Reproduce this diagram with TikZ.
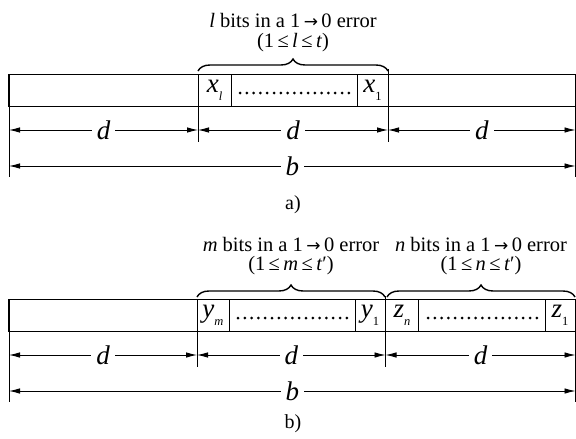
\documentclass[tikz,border=0pt]{standalone}
\usepackage{fontspec}
\setmainfont{Liberation Serif}
\newfontfamily\arrowfont{DejaVu Sans}
\usetikzlibrary{arrows.meta,decorations.pathreplacing}
\newcommand{\vsub}[2]{\textit{#1}\raisebox{-0.3em}{\fontsize{12.5}{12.5}\selectfont #2}}
\newcommand{\errarrow}{\,{\arrowfont\fontsize{17}{17}\selectfont →}\,}
\begin{document}
\begin{tikzpicture}[x=1pt,y=1pt,
  barline/.style={line width=1.8pt},
  cellline/.style={line width=0.9pt},
  tickline/.style={line width=0.8pt},
  dimarrow/.style={line width=0.9pt,{Latex[length=11pt,width=5.5pt]}-{Latex[length=11pt,width=5.5pt]}},
  dimlabel/.style={fill=white,inner sep=5pt,font=\fontsize{27}{27}\selectfont\itshape},
  caption/.style={font=\fontsize{20}{22}\selectfont},
  note/.style={inner sep=0pt,font=\fontsize{20.5}{22}\selectfont},
  dotrow/.style={line width=3pt,line cap=round,dash pattern=on 0pt off 6.8pt},
  bracestyle/.style={line width=1.4pt,decorate,decoration={brace,amplitude=12pt}},
  var/.style={font=\fontsize{27}{27}\selectfont}]
\useasboundingbox (0,0) rectangle (576,-439);

% ---------------- panel a) ----------------
\coordinate (aTL) at (9,-74.5);
\coordinate (aBL) at (9,-106.5);
\coordinate (aTR) at (575.5,-74.5);
\coordinate (aBR) at (575.5,-106.5);
\draw[barline] (aTR) -- (aTL) -- (aBL) -- (aBR);
\draw[cellline] (aTR) -- (aBR);
\draw[cellline] (198,-74.5) -- (198,-106.5);
\draw[cellline] (231,-74.5) -- (231,-106.5);
\draw[cellline] (357,-74.5) -- (357,-106.5);
\draw[cellline] (388,-74.5) -- (388,-106.5);
\node[var] (axl) at (214.5,-90) {\vsub{x}{\textit{l}}};
\node[var] (ax1) at (372.5,-90) {\vsub{x}{1}};
\draw[dotrow] (240,-93) -- (349,-93);
% ticks
\coordinate (aT0) at (9,-177);
\coordinate (aT1) at (198,-142);
\coordinate (aT2) at (388,-142);
\coordinate (aT3) at (575.5,-177);
\draw[tickline] (aBL) -- (aT0);
\draw[tickline] (198,-106.5) -- (aT1);
\draw[tickline] (388,-69) -- (aT2);
\draw[tickline] (aBR) -- (aT3);
% dimension arrows
\coordinate (ad0) at (9,-130);
\coordinate (ad1) at (198,-130);
\coordinate (ad2) at (388,-130);
\coordinate (ad3) at (575.5,-130);
\draw[dimarrow] (ad0) -- node[dimlabel] {d} (ad1);
\draw[dimarrow] (ad1) -- node[dimlabel] {d} (ad2);
\draw[dimarrow] (ad2) -- node[dimlabel] {d} (ad3);
\coordinate (ab0) at (9,-166);
\coordinate (ab1) at (575.5,-166);
\draw[dimarrow] (ab0) -- node[dimlabel] {b} (ab1);
% brace and text
\draw[bracestyle] (198,-71) -- (388,-71);
\node[note] (anote1) at (293,-20) {\textit{l} bits in a 1\errarrow 0 error};
\node[note] (anote2) at (293,-43) {(1\,≤\,\textit{l}\,≤\,\textit{t})};
\node[caption] (acap) at (293,-205) {a)};

% ---------------- panel b) ----------------
\coordinate (bTL) at (9,-299.5);
\coordinate (bBL) at (9,-331.5);
\coordinate (bTR) at (575.5,-299.5);
\coordinate (bBR) at (575.5,-331.5);
\draw[barline] (bTR) -- (bTL) -- (bBL) -- (bBR);
\draw[cellline] (bTR) -- (bBR);
\draw[cellline] (197,-299.5) -- (197,-331.5);
\draw[cellline] (229,-299.5) -- (229,-331.5);
\draw[cellline] (355,-299.5) -- (355,-331.5);
\draw[cellline] (385.5,-299.5) -- (385.5,-331.5);
\draw[cellline] (418,-299.5) -- (418,-331.5);
\draw[cellline] (545,-299.5) -- (545,-331.5);
\node[var] (bym) at (213,-315) {\vsub{y}{\textit{m}}};
\node[var] (by1) at (370,-315) {\vsub{y}{1}};
\node[var] (bzn) at (402,-315) {\vsub{z}{\textit{n}}};
\node[var] (bz1) at (560,-315) {\vsub{z}{1}};
\draw[dotrow] (238,-318) -- (347,-318);
\draw[dotrow] (428,-318) -- (537,-318);
% ticks
\coordinate (bT0) at (9,-402);
\coordinate (bT1) at (197,-367);
\coordinate (bT2) at (385.5,-367);
\coordinate (bT3) at (575.5,-402);
\draw[tickline] (bBL) -- (bT0);
\draw[tickline] (197,-331.5) -- (bT1);
\draw[tickline] (385.5,-296) -- (bT2);
\draw[tickline] (bBR) -- (bT3);
% dimension arrows
\coordinate (bd0) at (9,-355);
\coordinate (bd1) at (197,-355);
\coordinate (bd2) at (385.5,-355);
\coordinate (bd3) at (575.5,-355);
\draw[dimarrow] (bd0) -- node[dimlabel] {d} (bd1);
\draw[dimarrow] (bd1) -- node[dimlabel] {d} (bd2);
\draw[dimarrow] (bd2) -- node[dimlabel] {d} (bd3);
\coordinate (bb0) at (9,-391);
\coordinate (bb1) at (575.5,-391);
\draw[dimarrow] (bb0) -- node[dimlabel] {b} (bb1);
% braces and text
\draw[bracestyle] (197,-297) -- (385,-297);
\draw[bracestyle] (387,-297) -- (575,-297);
\node[note] (bnote1) at (291,-244) {\textit{m} bits in a 1\errarrow 0 error};
\node[note] (bnote2) at (291,-265.5) {(1\,≤\,\textit{m}\,≤\,\textit{t}′)};
\node[note] (bnote3) at (481,-244) {\textit{n} bits in a 1\errarrow 0 error};
\node[note] (bnote4) at (481,-265.5) {(1\,≤\,\textit{n}\,≤\,\textit{t}′)};
\node[caption] (bcap) at (293,-424) {b)};
\end{tikzpicture}
\end{document}
